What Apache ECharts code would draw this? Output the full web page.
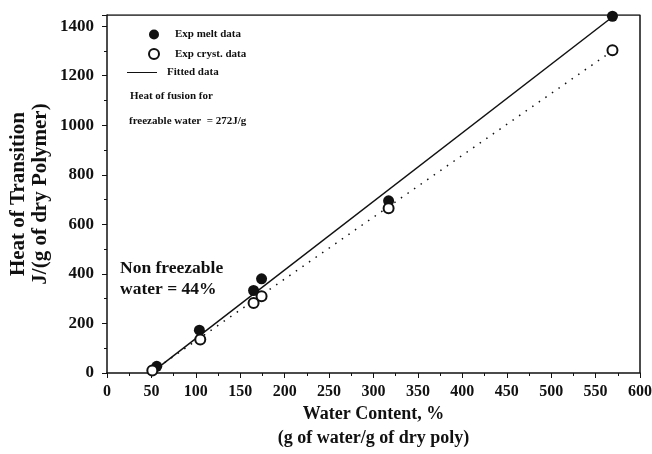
<!DOCTYPE html>
<html>
<head>
<meta charset="utf-8">
<script src="https://cdn.jsdelivr.net/npm/echarts@6/dist/echarts.min.js"></script>
<style>
  html, body { margin: 0; padding: 0; background: #fff; }
  #main { width: 652px; height: 454px; }
</style>
</head>
<body>
<div id="main"></div>
<script>
var meltX = [56, 104, 165, 174, 317, 569];
var meltY = [27, 173, 333, 380, 695, 1440];
var crystX = [51, 105, 165, 174, 317, 569];
var crystY = [10, 135, 283, 310, 665, 1303];
// 拟合线
var fitX = [55, 570];
var fitY = [15, 1440];
var fitCrystX = [50, 570];
var fitCrystY = [5, 1303];

var font = '"Liberation Serif", "DejaVu Serif", serif';
var legendText = { fontFamily: font, fontWeight: 'bold', fontSize: 11, color: '#111' };

function pairs(xs, ys) {
    var out = [];
    for (var i = 0; i < xs.length; i++) {
        out.push([xs[i], ys[i]]);
    }
    return out;
}

var myChart = echarts.init(document.getElementById('main'));

var option = {
    backgroundColor: '#fff',
    animation: false,
    grid: { left: 107, right: 12, top: 15, bottom: 81, outerBoundsMode: 'none', containLabel: false },
    legend: [
        {
            // 圆点图例
            orient: 'vertical',
            left: 148,
            top: 29,
            padding: 0,
            itemWidth: 10,
            itemHeight: 10,
            itemGap: 8,
            textStyle: Object.assign({ padding: [0, 0, 0, 11] }, legendText),
            data: [
                { name: 'Exp melt data', icon: 'circle', itemStyle: { color: '#111', opacity: 1 } },
                { name: 'Exp cryst. data', icon: 'circle', itemStyle: { color: '#fff', borderColor: '#111', borderWidth: 2, opacity: 1 } }
            ]
        },
        {
            // 线图例
            orient: 'vertical',
            left: 127,
            top: 67,
            padding: 0,
            itemWidth: 30,
            itemHeight: 10,
            textStyle: Object.assign({ padding: [0, 0, 0, 5] }, legendText),
            data: [
                { name: 'Fitted data', icon: 'path://M0,0H30V1H0Z', itemStyle: { color: '#111' } }
            ]
        }
    ],
    xAxis: {
        type: 'value',
        min: 0,
        max: 600,
        interval: 50,
        name: 'Water Content, %\n(g of water/g of dry poly)',
        nameLocation: 'middle',
        nameGap: 29,
        nameMoveOverlap: false,
        nameTextStyle: { fontFamily: font, fontWeight: 'bold', fontSize: 18, color: '#111', lineHeight: 24 },
        axisLine: { show: true, lineStyle: { color: '#111', width: 1.5 } },
        axisTick: { show: true, length: 5, lineStyle: { color: '#111' } },
        minorTick: { show: true, splitNumber: 2, length: 3, lineStyle: { color: '#111' } },
        axisLabel: { fontFamily: font, fontWeight: 'bold', fontSize: 16, color: '#111', margin: 11 },
        splitLine: { show: false }
    },
    yAxis: {
        type: 'value',
        min: 0,
        max: 1445,
        interval: 200,
        name: 'Heat of Transition\nJ/(g of dry Polymer)',
        nameLocation: 'middle',
        nameGap: 55,
        nameMoveOverlap: false,
        nameTextStyle: { fontFamily: font, fontWeight: 'bold', fontSize: 21, color: '#111', lineHeight: 22 },
        axisLine: { show: true, lineStyle: { color: '#111', width: 1.5 } },
        axisTick: { show: true, length: 5, lineStyle: { color: '#111' } },
        minorTick: { show: true, splitNumber: 2, length: 3, lineStyle: { color: '#111' } },
        axisLabel: {
            fontFamily: font, fontWeight: 'bold', fontSize: 17, color: '#111', margin: 13,
            showMaxLabel: false,
            formatter: function (v) { return String(v); }
        },
        splitLine: { show: false }
    },
    graphic: [
        {
            type: 'text', left: 130, top: 91,
            style: { text: 'Heat of fusion for', font: 'bold 11px ' + font, fill: '#111' }
        },
        {
            type: 'text', left: 129, top: 116,
            style: { text: 'freezable water  = 272J/g', font: 'bold 11px ' + font, fill: '#111' }
        },
        {
            type: 'text', left: 120, top: 258,
            style: { text: 'Non freezable\nwater = 44%', font: 'bold 17.5px ' + font, fill: '#111', lineHeight: 21 }
        }
    ],
    series: [
        {
            name: 'Fitted data',
            type: 'line',
            data: pairs(fitX, fitY),
            showSymbol: false,
            lineStyle: { color: '#111', width: 1.5 },
            itemStyle: { color: '#111' },
            z: 2
        },
        {
            name: 'Fitted cryst',
            type: 'line',
            data: pairs(fitCrystX, fitCrystY),
            showSymbol: false,
            lineStyle: { color: '#111', width: 1.5, type: [1.5, 6.5] },
            z: 2
        },
        {
            name: 'Exp melt data',
            type: 'scatter',
            data: pairs(meltX, meltY),
            symbol: 'circle',
            symbolSize: 11,
            itemStyle: { color: '#111', opacity: 1 },
            z: 3
        },
        {
            name: 'Exp cryst. data',
            type: 'scatter',
            data: pairs(crystX, crystY),
            symbol: 'circle',
            symbolSize: 10,
            itemStyle: { color: '#fff', borderColor: '#111', borderWidth: 2, opacity: 1 },
            z: 4
        },
        {
            // 上边框和右边框
            name: 'frame',
            type: 'line',
            data: [[0, 1445], [600, 1445], [600, 0]],
            showSymbol: false,
            silent: true,
            lineStyle: { color: '#111', width: 1.5 },
            z: 1
        }
    ]
};

myChart.setOption(option);
</script>
</body>
</html>
